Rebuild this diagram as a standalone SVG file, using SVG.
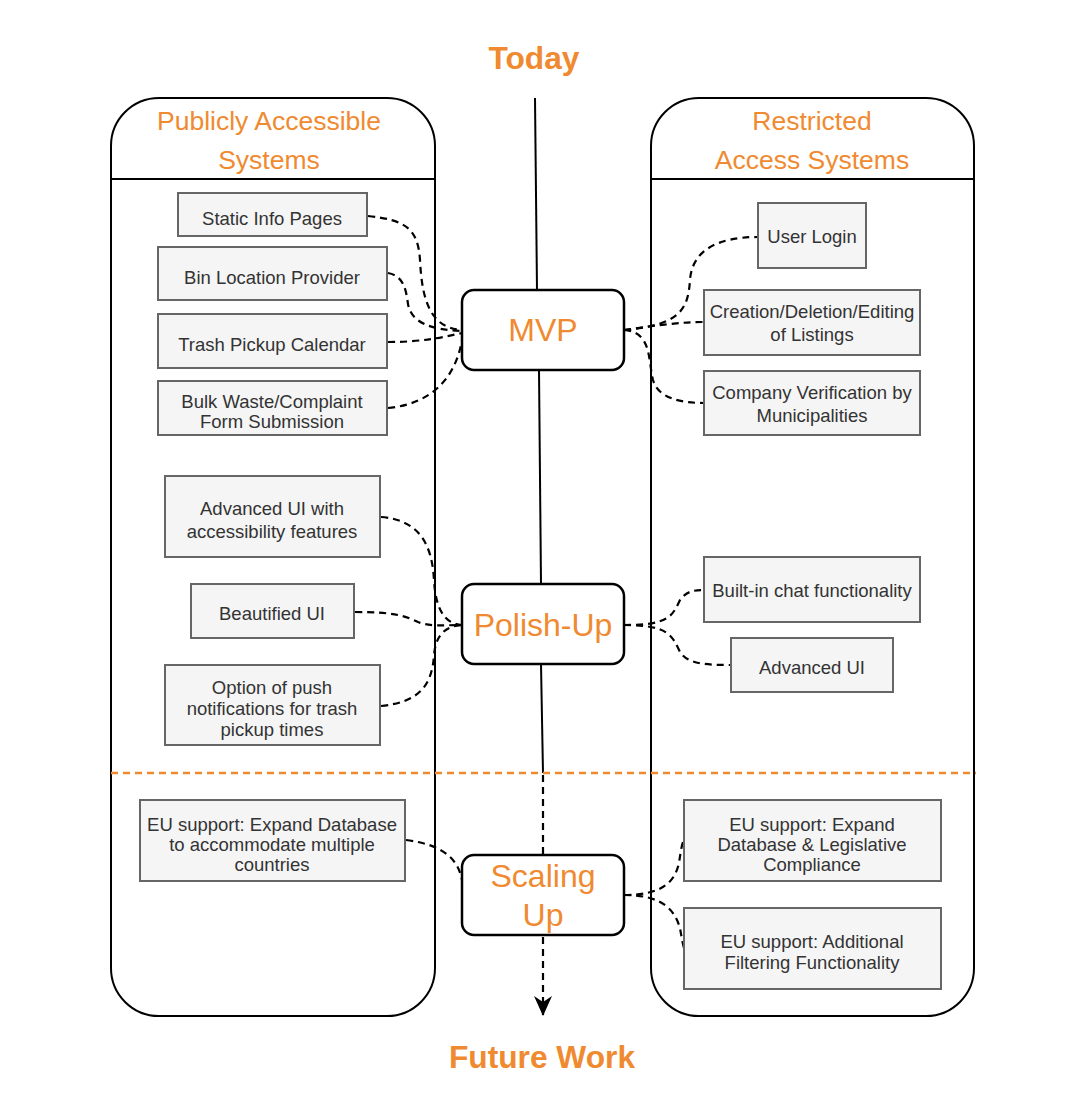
<svg xmlns="http://www.w3.org/2000/svg" width="1084" height="1118" viewBox="0 0 1084 1118">
<defs>
<style>
.title{font-family:"Liberation Sans",Arial,sans-serif;font-weight:bold;font-size:31.7px;fill:#F08A30;text-anchor:middle}
.hdr{font-family:"Liberation Sans",Arial,sans-serif;font-size:26.5px;fill:#F08A30;text-anchor:middle}
.stage{font-family:"Liberation Sans",Arial,sans-serif;font-size:32px;fill:#F08A30;text-anchor:middle}
.lbl{font-family:"Liberation Sans",Arial,sans-serif;font-size:18.5px;fill:#333;text-anchor:middle}
.cont{fill:#fff;stroke:#000;stroke-width:2}
.box{fill:#f5f5f5;stroke:#666;stroke-width:2}
.sbox{fill:#fff;stroke:#000;stroke-width:2.5}
.dash{fill:none;stroke:#000;stroke-width:2.2;stroke-dasharray:7 5}
.axis{fill:none;stroke:#000;stroke-width:2}
</style>
<marker id="arr" viewBox="0 0 20 24" refX="19" refY="12" markerWidth="20" markerHeight="24" markerUnits="userSpaceOnUse" orient="auto">
<path d="M0,3 L20,12 L0,21 L6,12 Z" fill="#000"/>
</marker>
</defs>
<rect width="1084" height="1118" fill="#fff"/>

<g id="title-today"><text class="title" x="534" y="69">Today</text></g>
<g id="title-future"><text class="title" x="542" y="1068">Future Work</text></g>

<g id="container-public">
<rect class="cont" x="111" y="98" width="324" height="918" rx="48" ry="48"/>
<line x1="111" y1="179" x2="435" y2="179" stroke="#000" stroke-width="2"/>
<text class="hdr" x="269" y="130">Publicly Accessible</text>
<text class="hdr" x="269" y="169">Systems</text>
</g>
<g id="container-restricted">
<rect class="cont" x="651" y="98" width="323" height="918" rx="48" ry="48"/>
<line x1="651" y1="179" x2="974" y2="179" stroke="#000" stroke-width="2"/>
<text class="hdr" x="812" y="130">Restricted</text>
<text class="hdr" x="812" y="169">Access Systems</text>
</g>

<g id="connectors">
<path class="axis" d="M535,98 L537,290"/>
<path class="axis" d="M539,370 L541,584"/>
<path class="axis" d="M541,664 L543,773"/>
<path class="dash" d="M543,775 L543,855"/>
<path class="dash" d="M543,937 L543,1015" marker-end="url(#arr)"/>
<line x1="111" y1="773" x2="976" y2="773" stroke="#F08A30" stroke-width="2.5" stroke-dasharray="7 5"/>
<path class="dash" d="M368,216 C405,220 418,228 420,260 C422,300 430,328 462,330"/>
<path class="dash" d="M388,273 C404,276 406,290 408,304 C411,322 430,330 462,331"/>
<path class="dash" d="M388,342 C420,342 440,338 462,333"/>
<path class="dash" d="M388,408 C430,404 455,380 462,340"/>
<path class="dash" d="M624,330 C680,325 688,310 690,280 C692,252 715,237 758,237"/>
<path class="dash" d="M624,330 C660,325 680,322 704,322"/>
<path class="dash" d="M624,330 C652,332 648,360 653,380 C658,398 680,403 704,403"/>
<path class="dash" d="M381,517 C420,520 432,545 434,580 C436,615 448,624 462,625"/>
<path class="dash" d="M355,612 C395,612 405,616 418,622 C430,627 445,625 462,625"/>
<path class="dash" d="M381,706 C420,702 432,685 434,655 C436,632 448,626 462,625"/>
<path class="dash" d="M624,625 C668,625 672,617 680,600 C686,592 692,590 704,590"/>
<path class="dash" d="M624,625 C668,625 672,635 680,652 C688,664 705,665 731,665"/>
<path class="dash" d="M406,840 C445,845 458,860 462,880"/>
<path class="dash" d="M624,895 C665,895 675,880 679,863 C681,850 682,843 684,840"/>
<path class="dash" d="M624,895 C665,895 675,912 680,928 C682,940 683,945 684,948"/>
</g>

<g id="stage-mvp"><rect class="sbox" x="462" y="290" width="162" height="80" rx="12"/><text class="stage" x="543" y="341">MVP</text></g>
<g id="stage-polish"><rect class="sbox" x="462" y="584" width="162" height="80" rx="12"/><text class="stage" x="543" y="636">Polish-Up</text></g>
<g id="stage-scaling"><rect class="sbox" x="462" y="855" width="162" height="80" rx="12"/><text class="stage" x="543" y="887">Scaling</text><text class="stage" x="543" y="926">Up</text></g>

<g id="n-static"><rect class="box" x="178" y="193" width="189" height="43"/><text class="lbl" x="272" y="225">Static Info Pages</text></g>
<g id="n-bin"><rect class="box" x="158" y="247" width="229" height="53"/><text class="lbl" x="272" y="284">Bin Location Provider</text></g>
<g id="n-trash"><rect class="box" x="158" y="314" width="229" height="54"/><text class="lbl" x="272" y="351">Trash Pickup Calendar</text></g>
<g id="n-bulk"><rect class="box" x="158" y="381" width="229" height="54"/><text class="lbl" x="272" y="408">Bulk Waste/Complaint</text><text class="lbl" x="272" y="428">Form Submission</text></g>
<g id="n-advui-acc"><rect class="box" x="165" y="476" width="215" height="81"/><text class="lbl" x="272" y="515">Advanced UI with</text><text class="lbl" x="272" y="538">accessibility features</text></g>
<g id="n-beautified"><rect class="box" x="191" y="584" width="163" height="54"/><text class="lbl" x="272" y="620">Beautified UI</text></g>
<g id="n-push"><rect class="box" x="165" y="665" width="215" height="80"/><text class="lbl" x="272" y="694">Option of push</text><text class="lbl" x="272" y="715">notifications for trash</text><text class="lbl" x="272" y="736">pickup times</text></g>
<g id="n-eu-db"><rect class="box" x="140" y="800" width="265" height="81"/><text class="lbl" x="272" y="831">EU support: Expand Database</text><text class="lbl" x="272" y="851">to accommodate multiple</text><text class="lbl" x="272" y="871">countries</text></g>

<g id="n-login"><rect class="box" x="758" y="203" width="108" height="65"/><text class="lbl" x="812" y="243">User Login</text></g>
<g id="n-listings"><rect class="box" x="704" y="290" width="216" height="65"/><text class="lbl" x="812" y="318">Creation/Deletion/Editing</text><text class="lbl" x="812" y="341">of Listings</text></g>
<g id="n-verify"><rect class="box" x="704" y="371" width="216" height="64"/><text class="lbl" x="812" y="399">Company Verification by</text><text class="lbl" x="812" y="422">Municipalities</text></g>
<g id="n-chat"><rect class="box" x="704" y="557" width="216" height="65"/><text class="lbl" x="812" y="597">Built-in chat functionality</text></g>
<g id="n-advui"><rect class="box" x="731" y="638" width="162" height="54"/><text class="lbl" x="812" y="674">Advanced UI</text></g>
<g id="n-eu-legal"><rect class="box" x="684" y="800" width="257" height="81"/><text class="lbl" x="812" y="831">EU support: Expand</text><text class="lbl" x="812" y="851">Database &amp; Legislative</text><text class="lbl" x="812" y="871">Compliance</text></g>
<g id="n-eu-filter"><rect class="box" x="684" y="908" width="257" height="81"/><text class="lbl" x="812" y="948">EU support: Additional</text><text class="lbl" x="812" y="969">Filtering Functionality</text></g>
</svg>
